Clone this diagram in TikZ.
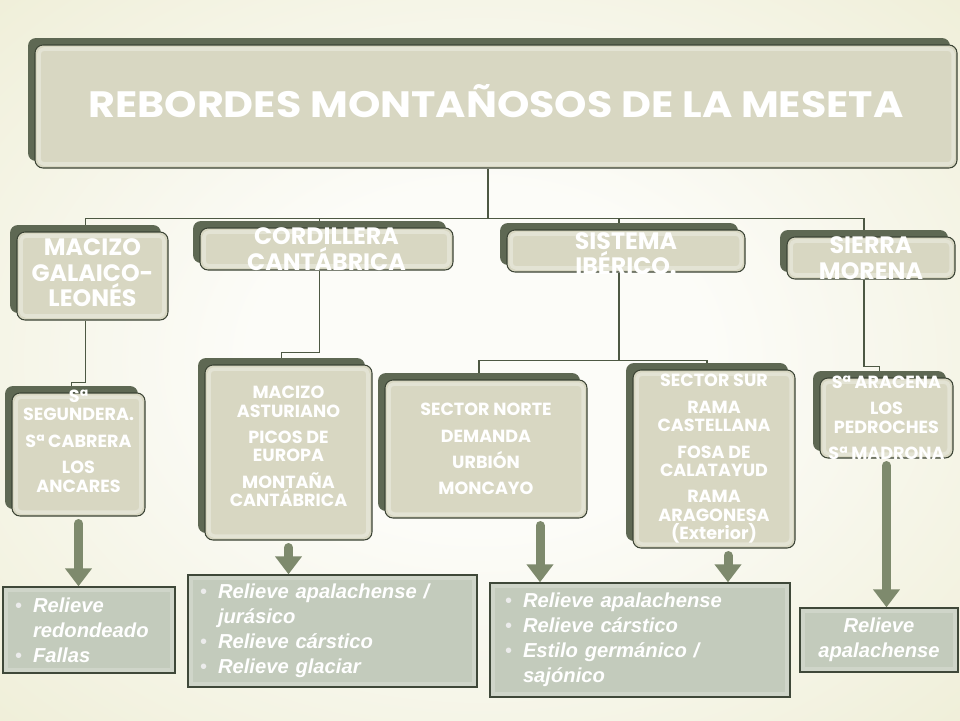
\documentclass[tikz,border=0pt]{standalone}
\usepackage{fontspec}
\usepackage{graphicx}
\usetikzlibrary{arrows.meta,shadows,backgrounds}
\setmainfont{Liberation Sans}
\newfontfamily\gothic{Poppins}

\definecolor{bgin}{HTML}{FCFCF8}
\definecolor{bgout}{HTML}{E8E7C6}
\definecolor{boxback}{HTML}{5E6853}
\definecolor{boxfill}{HTML}{D8D7C2}
\definecolor{boxline}{HTML}{3C4435}
\definecolor{resfill}{HTML}{C3CBBC}
\definecolor{resline}{HTML}{3F4839}
\definecolor{linkcol}{HTML}{4D5843}
\definecolor{arrowcol}{HTML}{7E8A6D}

\pgfdeclareradialshading{slidebg}{\pgfpoint{0bp}{0bp}}{color(0bp)=(bgin); color(12bp)=(bgin); color(50bp)=(bgout)}

\newcommand\blt{\makebox[0.36cm][l]{\normalfont\textcolor{white!85!gray}{\textbullet}}}
\newcommand\hang{\hspace*{0.36cm}}

\begin{document}
\begin{tikzpicture}[
    bigbox/.style={rounded corners=0.16cm, fill=boxfill, draw=boxline, line width=0.6pt,
      general shadow={fill=boxback, shadow xshift=-0.14cm, shadow yshift=0.14cm},
      path picture={\draw[white, opacity=0.3, line width=2pt, rounded corners=0.1cm]
        ([shift={(0.08,0.08)}]path picture bounding box.south west) rectangle
        ([shift={(-0.08,-0.08)}]path picture bounding box.north east);}},
    titletext/.style={text=white, font=\gothic\bfseries},
    onetext/.style={text=white, align=center, font=\gothic\bfseries\fontsize{13.5}{14.5}\selectfont},
    twotext/.style={text=white, align=center, font=\gothic\bfseries\fontsize{10}{10.5}\selectfont},
    resbox/.style={fill=resfill, draw=resline, line width=0.8pt, inner xsep=0.24cm,
      text=white, align=left, font=\bfseries\itshape\fontsize{11.5}{14.2}\selectfont,
      path picture={\draw[white, opacity=0.2, line width=2.5pt]
        ([shift={(0.06,0.06)}]path picture bounding box.south west) rectangle
        ([shift={(-0.06,-0.06)}]path picture bounding box.north east);}},
    link/.style={draw=linkcol, line width=0.8pt},
    down/.style={draw=arrowcol, line width=0.18cm, line cap=round, shorten <=0.14cm,
      -{Triangle[width=0.52cm, length=0.36cm]}}
]

    \useasboundingbox (0,0) rectangle (19.2,-14.4);

    % Title
    \node[bigbox, minimum width=18.44cm, minimum height=2.46cm,
      label={[titletext, yshift=0.1cm]center:{\resizebox{16.3cm}{0.66cm}{REBORDES MONTAÑOSOS DE LA MESETA}}}]
      (title) at (9.92,-2.13) {};

    % First level
    \node[bigbox, minimum width=3.02cm, minimum height=1.76cm,
      label={[onetext, yshift=0.06cm]center:{MACIZO\\GALAICO-\\LEONÉS}}] (maci) at (1.85,-5.52) {};
    \node[bigbox, minimum width=5.06cm, minimum height=0.84cm,
      label={[onetext]center:{CORDILLERA\\CANTÁBRICA}}] (cord) at (6.53,-4.98) {};
    \node[bigbox, minimum width=4.76cm, minimum height=0.84cm,
      label={[onetext, yshift=-0.05cm]center:{SISTEMA\\IBÉRICO.}}] (sist) at (12.52,-5.02) {};
    \node[bigbox, minimum width=3.36cm, minimum height=0.84cm,
      label={[onetext]center:{SIERRA\\MORENA}}] (sier) at (17.42,-5.16) {};

    % Second level
    \node[bigbox, minimum width=2.66cm, minimum height=2.46cm,
      label={[twotext, yshift=0.27cm]center:{Sª\\SEGUNDERA.\\[4.5pt]Sª CABRERA\\[4.5pt]LOS\\ANCARES}}]
      (segu) at (1.57,-9.09) {};
    \node[bigbox, minimum width=3.34cm, minimum height=3.5cm,
      label={[twotext, yshift=0.12cm]center:{MACIZO\\ASTURIANO\\[4.5pt]PICOS DE\\EUROPA\\[4.5pt]MONTAÑA\\CANTÁBRICA}}]
      (astu) at (5.77,-9.05) {};
    \node[bigbox, minimum width=4.04cm, minimum height=2.76cm,
      label={[twotext]center:{SECTOR NORTE\\[4.5pt]DEMANDA\\[4.5pt]URBIÓN\\[4.5pt]MONCAYO}}]
      (nort) at (9.72,-8.98) {};
    \node[bigbox, minimum width=3.24cm, minimum height=3.56cm,
      label={[twotext]center:{SECTOR SUR\\[4.5pt]RAMA\\CASTELLANA\\[4.5pt]FOSA DE\\CALATAYUD\\[4.5pt]RAMA\\ARAGONESA\\(Exterior)}}]
      (sur) at (14.28,-9.18) {};
    \node[bigbox, minimum width=2.66cm, minimum height=1.6cm,
      label={[twotext]center:{Sª ARACENA\\[4.5pt]LOS\\PEDROCHES\\[4.5pt]Sª MADRONA}}]
      (arac) at (17.73,-8.36) {};

    % Relief boxes
    \node[resbox, text width=2.96cm, minimum height=1.72cm] (resA) at (1.78,-12.6)
      {\blt Relieve\\ \hang redondeado\\ \blt Fallas};
    \node[resbox, text width=5.3cm, minimum height=2.24cm] (resB) at (6.65,-12.62)
      {\blt Relieve apalachense /\\ \hang jurásico\\ \blt Relieve cárstico\\ \blt Relieve glaciar};
    \node[resbox, inner xsep=0.3cm, text width=5.4cm, minimum height=2.28cm] (resC) at (12.8,-12.8)
      {\blt Relieve apalachense\\ \blt Relieve cárstico\\ \blt Estilo germánico /\\ \hang sajónico};
    \node[resbox, align=center, text width=2.68cm, minimum height=1.28cm] (resD) at (17.58,-12.8)
      {Relieve\\ apalachense};

    % Arrows
    \draw[down] (segu.south) -- (segu.south |- resA.north);
    \draw[down] (astu.south) -- (astu.south |- resB.north);
    \draw[down] ([xshift=1.08cm]nort.south) -- ([xshift=1.08cm]nort.south |- resC.north);
    \draw[down] ([xshift=0.28cm]sur.south) -- ([xshift=0.28cm]sur.south |- resC.north);
    \draw[down] (arac.south) -- (arac.south |- resD.north);

    \begin{scope}[on background layer]
      \shade[shading=slidebg] (0,0) rectangle (19.2,-14.4);

      % Connectors (to the centres of the back boxes)
      \draw[link] ([xshift=-0.16cm]title.south) -- ++(0,-1.0) coordinate (bus);
      \draw[link] (bus) -| ([xshift=-0.14cm]maci.north);
      \draw[link] (bus) -| ([xshift=-0.14cm]cord.north);
      \draw[link] (bus) -| ([xshift=-0.14cm]sist.north);
      \draw[link] (bus) -| ([xshift=-0.14cm]sier.north);

      \draw[link] ([xshift=-0.14cm]maci.south) -- ++(0,-1.24) -| ([xshift=-0.14cm]segu.north);
      \draw[link] ([xshift=-0.14cm]cord.south) -- ++(0,-1.64) -| ([xshift=-0.14cm]astu.north);
      \draw[link] ([xshift=-0.14cm]sist.south) -- ++(0,-1.76) coordinate (sbus);
      \draw[link] (sbus) -| ([xshift=-0.14cm]nort.north);
      \draw[link] (sbus) -| ([xshift=-0.14cm]sur.north);
      \draw[link] ([xshift=-0.14cm]sier.south) -- ++(0,-1.74) -| ([xshift=-0.14cm]arac.north);
    \end{scope}

\end{tikzpicture}
\end{document}
